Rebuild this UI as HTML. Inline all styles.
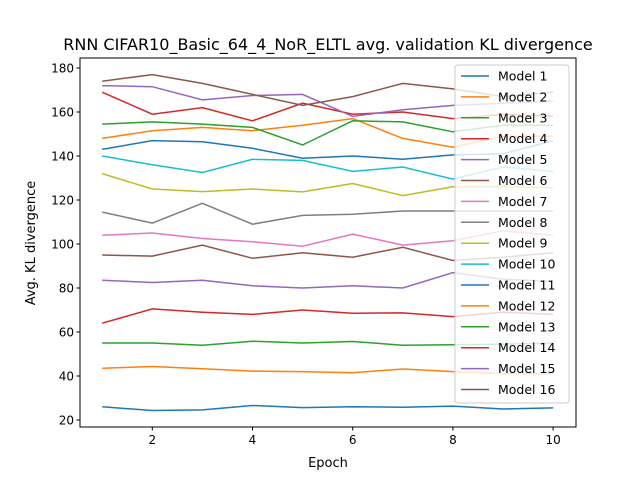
<!DOCTYPE html>
<html><head><meta charset="utf-8"><style>
body{margin:0;background:#fff;}
svg text{font-family:"DejaVu Sans","Liberation Sans",sans-serif;fill:#000;}
</style></head><body>
<svg id="chart" width="640" height="480" viewBox="0 0 640 480">
<rect width="640" height="480" fill="#fff"/>
<text x="328" y="50" font-size="16" text-anchor="middle">RNN CIFAR10_Basic_64_4_NoR_ELTL avg. validation KL divergence</text>
<g id="plot"></g>
<text x="328" y="467" font-size="13" text-anchor="middle">Epoch</text>
<text transform="translate(35,243) rotate(-90)" font-size="13" text-anchor="middle">Avg. KL divergence</text>
</svg>
<script>
const epochs=[1,2,3,4,5,6,7,8,9,10];
const xTicks=[2,4,6,8,10];
const yTicks=[20,40,60,80,100,120,140,160,180];
const seriesNames=["Model 1","Model 2","Model 3","Model 4","Model 5","Model 6","Model 7","Model 8","Model 9","Model 10","Model 11","Model 12","Model 13","Model 14","Model 15","Model 16"];
const colors=["#1f77b4","#ff7f0e","#2ca02c","#d62728","#9467bd","#8c564b","#e377c2","#7f7f7f","#bcbd22","#17becf","#1f77b4","#ff7f0e","#2ca02c","#d62728","#9467bd","#8c564b"];
const m1=[26,24.3,24.6,26.6,25.6,26,25.8,26.3,25,25.5];
const m2=[43.5,44.3,43.3,42.2,42,41.5,43.2,42,41,41];
const m3=[55,55,54,55.8,55,55.7,54,54.2,54.5,55];
const m4=[64,70.5,69,68,70,68.5,68.7,67,69,68];
const m5=[83.5,82.5,83.5,81,80,81,80,87,84,83];
const m6=[95,94.5,99.5,93.5,96,94,98.5,92.5,94,96];
const m7=[104,105,102.5,101,99,104.5,99.5,101.5,106,104];
const m8=[114.5,109.5,118.5,109,113,113.5,115,115,115,115];
const m9=[132,125,123.8,125,123.7,127.5,122,126,126,125.5];
const m10=[140,136,132.5,138.5,138,133,135,129.5,135,133];
const m11=[143,147,146.5,143.5,139,140,138.5,140.5,141,147];
const m12=[148,151.5,153,151.5,154,157,148,144,149,149];
const m13=[154.5,155.5,154.5,153,145,156,155.5,151,154,154];
const m14=[169,159,162,156,164,159,160,157,159,158];
const m15=[172,171.5,165.5,167.5,168,158,161,163,164,165];
const m16=[174,177,173,168,163,167,173,170.5,167,169];
const series=[m1,m2,m3,m4,m5,m6,m7,m8,m9,m10,m11,m12,m13,m14,m15,m16];
const L=80,R=576,T=58,B=427;
const xs=v=>102.2+(v-1)*50.1;
const ys=v=>420-(v-20)*2.2;
const NS="http://www.w3.org/2000/svg";
const g=document.getElementById('plot');
function mk(t,a,p){const e=document.createElementNS(NS,t);for(const k in a)e.setAttribute(k,a[k]);(p||g).appendChild(e);return e;}
series.forEach((s,i)=>{
  const pl=mk('polyline',{points:s.map((v,j)=>xs(epochs[j])+','+ys(v)).join(' '),fill:'none',stroke:colors[i],'stroke-width':1.5});
  
  
});
const fr=mk('rect',{x:L,y:T,width:R-L,height:B-T,fill:'none',stroke:'#000','stroke-width':1});


xTicks.forEach(t=>{
  mk('line',{x1:xs(t),x2:xs(t),y1:B,y2:B+3.5,stroke:'#000'});
  const tx=mk('text',{x:xs(t),y:B+17,'font-size':12,'text-anchor':'middle'});tx.textContent=t;
  
  
});
yTicks.forEach(t=>{
  mk('line',{x1:L-3.5,x2:L,y1:ys(t),y2:ys(t),stroke:'#000'});
  const tx=mk('text',{x:L-6,y:ys(t)+4.5,'font-size':12,'text-anchor':'end'});tx.textContent=t;
  
  
});
const lg=mk('g',{});


mk('rect',{x:455,y:65,width:114,height:338,rx:3,fill:'#fff','fill-opacity':0.8,stroke:'#ccc'},lg);
seriesNames.forEach((n,i)=>{
  const y=76+i*20.9;
  const e=mk('g',{},lg);
  
  
  mk('line',{x1:461,x2:489,y1:y,y2:y,stroke:colors[i],'stroke-width':1.5},e);
  const tx=mk('text',{x:498,y:y+4.5,'font-size':12.5},e);tx.textContent=n;
});
</script>
</body></html>
